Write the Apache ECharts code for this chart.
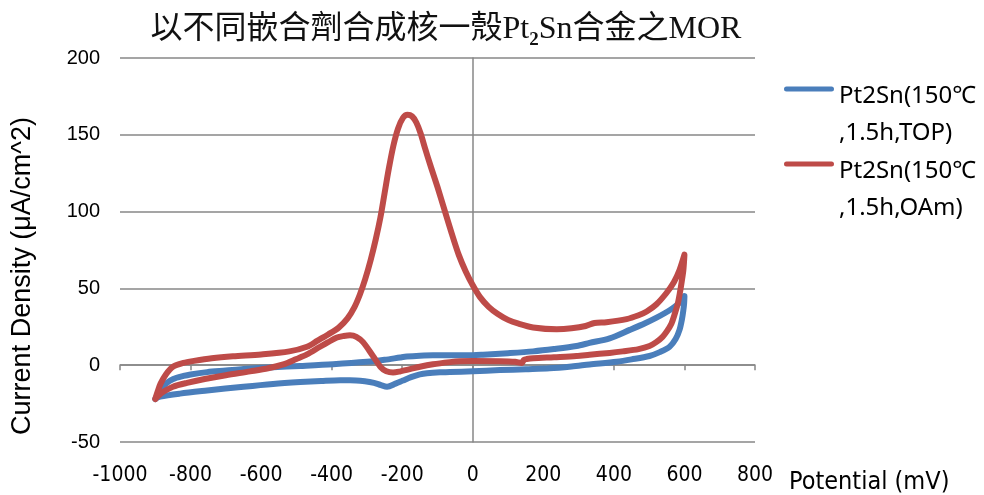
<!DOCTYPE html>
<html>
<head>
<meta charset="utf-8">
<script src="https://cdn.jsdelivr.net/npm/echarts@6/dist/echarts.min.js"></script>
<style>
  html, body { margin: 0; padding: 0; background: #fff; }
  #chart { width: 984px; height: 495px; }
</style>
</head>
<body>
<div id="chart"></div>
<script>
// Series labels (two-line legend entries)
const seriesNames = ['Pt2Sn(150℃\n,1.5h,TOP)', 'Pt2Sn(150℃\n,1.5h,OAm)'];

// Axis ranges (mV, μA/cm^2)
const xRange = { min: -1000, max: 800, step: 200 };
const yRange = { min: -50, max: 200, step: 50 };

// CV loop, TOP-capped sample: forward sweep then reverse sweep, [potential, current density]
const topScan = [
  [-900,-22],[-893,-19],[-886,-16],[-870,-12],[-849,-9],[-820,-7],[-800,-6],[-753,-4.5],
  [-700,-3.5],[-650,-2.5],[-566,-1.3],[-489,-0.5],[-396,0.6],[-300,2.2],[-250,3.5],[-206,5],
  [-187,5.6],[-150,6.2],[-113,6.5],[-36,6.5],[0,6.5],[29,6.8],[100,7.8],[171,9],[230,10.5],
  [294,12.5],[331,14.5],[388,17.5],[445,23],[490,27.5],[521,31],[545,34],[566,37],[585,40.5],[600,45],
  [599,40],[597,36],[593,30],[586,23],[575,17],[558,12],[530,8.5],[501,6],[450,3.8],[408,2.3],
  [331,0.5],[280,-0.8],[218,-2],[150,-2.6],[77,-3.2],[0,-4],[-65,-4.5],[-93,-4.6],[-130,-5.2],
  [-150,-6],[-175,-7.8],[-198,-10],[-219,-12],[-243,-14],[-260,-13],[-280,-11.5],[-306,-10.5],
  [-348,-9.8],[-376,-9.8],[-430,-10.3],[-489,-11],[-566,-12.2],[-650,-14],[-753,-16.5],
  [-830,-18.5],[-886,-20.5],[-900,-22]
];

// CV loop, OAm-capped sample: forward sweep then reverse sweep, [potential, current density]
const oamScan = [
  [-900,-22],[-893,-17],[-885,-12],[-870,-6],[-850,-1],[-820,1.5],[-790,2.8],[-740,4.5],
  [-680,5.8],[-600,7],[-520,9],[-470,12],[-440,16],[-410,20],[-380,24.5],[-355,30.5],
  [-335,38],[-320,46],[-305,56],[-290,68],[-275,82],[-262,96],[-250,112],[-238,128],
  [-225,143],[-212,154],[-198,161],[-185,163],[-172,162],[-160,158],[-148,151],[-135,141],
  [-120,130],[-100,116],[-80,101],[-60,86],[-40,72],[-20,61],[0,52],[20,44.5],[45,38],
  [70,33.5],[100,29.5],[130,27],[171,24.6],[238,23.4],[280,24],[320,25.5],[345,27.5],[379,28],
  [436,30],[470,32.5],[493,35],[520,39.5],[549,47],[570,54],[586,62],[600,72],
  [597,62],[592,54],[587,47],[581,40],[572,33],[563,27],[550,22],[538,18.5],[520,15],[501,12.5],
  [470,10.5],[425,9],[388,8],[331,6.8],[294,6],[230,5.2],[171,4.5],[153,4],[145,3.5],[139,1.5],
  [120,2.2],[77,2.6],[0,2.8],[-36,2.6],[-65,2],[-113,0.6],[-150,-1],[-178,-2.6],[-205,-4],
  [-226,-4.8],[-245,-4],[-260,-1.5],[-283,6],[-311,15],[-330,18.5],[-348,19.5],[-366,19],
  [-385,18],[-410,15],[-433,12],[-470,7],[-500,4],[-537,0.5],[-580,-2],[-631,-4],[-700,-6.5],
  [-760,-9],[-810,-11.5],[-850,-14],[-875,-17],[-892,-20],[-900,-22]
];

const lineColors = ['#4A7EBB', '#BE4B48'];
const gridGray = '#878787';
const sansFont = '"Liberation Sans", Arial, sans-serif';
const narrowFont = '"Liberation Sans Narrow", "DejaVu Sans Condensed", "Liberation Sans", sans-serif';

// Legend icon: a short rounded bar sitting at the top of a tall box so it lines up with the first text line
const legendBar = 'path://M2.5,0L47.5,0A2.5,2.5,0,0,1,47.5,5L2.5,5A2.5,2.5,0,0,1,2.5,0ZM0,56.9L0.1,56.9L0.1,57L0,57Z';

const chart = echarts.init(document.getElementById('chart'), null, { renderer: 'canvas' });

const option = {
  backgroundColor: '#fff',
  animation: false,
  title: {
    text: '{a|以不同嵌合劑合成核一殼Pt}{s|2}{a|Sn合金之MOR}',
    left: 441,
    top: 5,
    textAlign: 'center',
    textStyle: {
      rich: {
        a: { fontFamily: '"Liberation Serif", "Noto Sans CJK TC", serif', fontSize: 32, fontWeight: 'normal', color: '#111', lineHeight: 40, verticalAlign: 'middle' },
        s: { fontFamily: '"Liberation Serif", serif', fontSize: 19, color: '#111', lineHeight: 19, verticalAlign: 'bottom' }
      }
    }
  },
  legend: {
    orient: 'vertical',
    left: 784,
    top: 78,
    padding: 0,
    itemGap: 1,
    itemWidth: 50,
    itemHeight: 57,
    icon: legendBar,
    selectedMode: false,
    itemStyle: { borderWidth: 0 },
    textStyle: { fontFamily: '"Noto Sans", sans-serif', fontSize: 24, lineHeight: 37, color: '#000' },
    data: seriesNames
  },
  grid: {
    left: 120, right: 229, top: 58, bottom: 53,
    containLabel: false,
    outerBoundsMode: 'none'
  },
  xAxis: [
    {
      type: 'value',
      position: 'bottom',
      min: xRange.min, max: xRange.max, interval: xRange.step,
      axisLine: { show: false, onZero: false },
      axisTick: { show: false },
      splitLine: { show: false },
      axisLabel: { margin: 23, fontSize: 21, color: '#000', fontFamily: narrowFont, formatter: v => String(v) },
      name: 'Potential (mV)',
      nameLocation: 'end',
      nameGap: 34,
      nameTextStyle: { fontSize: 25, color: '#000', fontFamily: narrowFont, verticalAlign: 'top', align: 'left', padding: [28, 0, 0, 0] }
    },
    {
      type: 'value',
      position: 'bottom',
      min: xRange.min, max: xRange.max, interval: xRange.step,
      axisLine: { show: true, onZero: true, lineStyle: { color: gridGray, width: 1.5 } },
      axisTick: { show: true, length: 5, lineStyle: { color: gridGray, width: 1.5 } },
      axisLabel: { show: false },
      splitLine: { show: false }
    }
  ],
  yAxis: [
    {
      type: 'value',
      position: 'left',
      min: yRange.min, max: yRange.max, interval: yRange.step,
      axisLine: { show: false, onZero: false },
      axisTick: { show: false },
      splitLine: { show: true, lineStyle: { color: gridGray, width: 1.5 } },
      axisLabel: { margin: 20, fontSize: 20, color: '#000', fontFamily: sansFont },
      name: 'Current Density (μA/cm^2)',
      nameLocation: 'middle',
      nameGap: 84,
      nameRotate: 90,
      nameTextStyle: { fontSize: 27, color: '#000', fontFamily: sansFont, padding: [0, 52, 0, 0] }
    },
    {
      type: 'value',
      position: 'left',
      min: yRange.min, max: yRange.max, interval: yRange.step,
      axisLine: { show: true, onZero: true, lineStyle: { color: gridGray, width: 1.5 } },
      axisTick: { show: false },
      axisLabel: { show: false },
      splitLine: { show: false }
    }
  ],
  series: [
    {
      name: seriesNames[0],
      type: 'line',
      data: topScan,
      color: lineColors[0],
      showSymbol: false,
      symbol: 'none',
      smooth: 0.3,
      lineStyle: { width: 6, color: lineColors[0], cap: 'round', join: 'round' },
      z: 3
    },
    {
      name: seriesNames[1],
      type: 'line',
      data: oamScan,
      color: lineColors[1],
      showSymbol: false,
      symbol: 'none',
      smooth: 0.3,
      lineStyle: { width: 6, color: lineColors[1], cap: 'round', join: 'round' },
      z: 4
    }
  ]
};

chart.setOption(option);
</script>
</body>
</html>
